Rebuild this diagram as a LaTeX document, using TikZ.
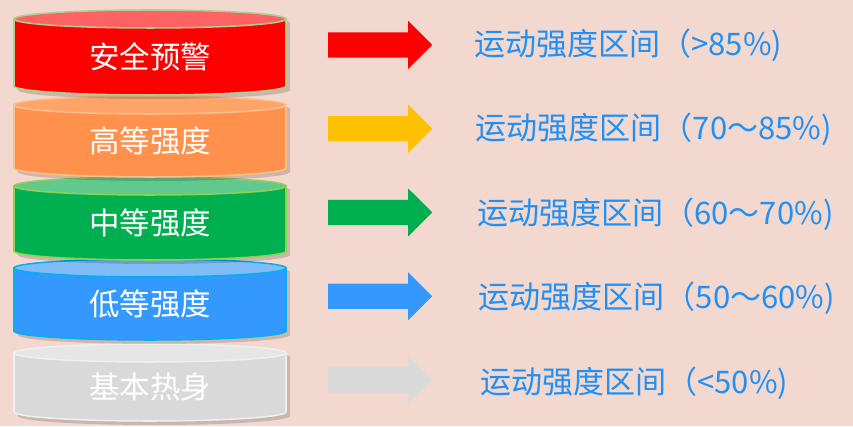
\documentclass[tikz,border=0pt]{standalone}
\usepackage{fontspec}
\setmainfont{Noto Sans CJK SC}
\usetikzlibrary{shapes.arrows}
\definecolor{lvbg}{HTML}{F2D8CE}
\definecolor{lvtext}{HTML}{2090F5}
\definecolor{lvred}{HTML}{FF0000}
\definecolor{lvredtop}{HTML}{FF6262}
\definecolor{lvredrim}{HTML}{A9D18E}
\definecolor{lvorange}{HTML}{FF914D}
\definecolor{lvorangetop}{HTML}{FFA468}
\definecolor{lvorangerim}{HTML}{F8C08F}
\definecolor{lvgreen}{HTML}{00B050}
\definecolor{lvgreentop}{HTML}{62C98E}
\definecolor{lvgreenrim}{HTML}{92D050}
\definecolor{lvblue}{HTML}{3399FF}
\definecolor{lvbluetop}{HTML}{80BDF6}
\definecolor{lvbluerim}{HTML}{00B0F0}
\definecolor{lvgray}{HTML}{D9D9D9}
\definecolor{lvgraytop}{HTML}{E6E6E6}
\definecolor{lvgrayrim}{HTML}{EFEFEF}
\definecolor{lvredarrow}{HTML}{FF0000}
\definecolor{lvorangearrow}{HTML}{FFC000}
\definecolor{lvgreenarrow}{HTML}{00B050}
\definecolor{lvbluearrow}{HTML}{3399FF}
\definecolor{lvgrayarrow}{HTML}{D9D9D9}
\tikzset{
  lvbody/.style={line width=1.3pt},
  lvshadow/.style={fill=black, opacity=0.16},
  lvlabel/.style={font=\fontsize{26}{30}\selectfont, text=white},
  lvarrow/.style={
    single arrow, draw=none, anchor=tail, inner xsep=0pt,
    inner ysep=0.375cm, minimum height=3.12cm,
    single arrow head extend=0.345cm, single arrow tip angle=90},
  lvrange/.style={anchor=west, font=\fontsize{26.5}{30}\selectfont,
    text=lvtext},
}

\begin{document}
\begin{tikzpicture}[x=0.03cm, y=0.03cm]

% Canvas.
\useasboundingbox (0,0) rectangle (853,426);
\fill[lvbg] (0,0) rectangle (853,426);

% Stacked discs, drawn from the bottom one up so upper rims overlap.
\foreach \i/\t/\b/\c/\txt in {4/344/421/gray/基本热身,
    3/259/340/blue/低等强度, 2/177/260/green/中等强度,
    1/96/177/orange/高等强度, 0/10/95/red/安全预警} {
  \pgfmathsetmacro{\ct}{426 - \t - 9}
  \pgfmathsetmacro{\cb}{426 - \b + 9}
  \pgfmathsetmacro{\ly}{426 - (\t + \b + 9) / 2}
  \fill[lvshadow] (18,\ct - 4) -- (18,\cb - 4)
    arc[start angle=180, end angle=360, x radius=136, y radius=9]
    -- (290,\ct - 4)
    arc[start angle=0, end angle=180, x radius=136, y radius=9] -- cycle;
  \draw[lvbody, fill=lv\c, draw=lv\c rim] (14,\ct) -- (14,\cb)
    arc[start angle=180, end angle=360, x radius=136, y radius=9]
    -- (286,\ct) -- cycle;
  \draw[lvbody, fill=lv\c top, draw=lv\c rim] (150,\ct)
    ellipse[x radius=136, y radius=9];
  \node[lvlabel] (lv\i) at (150,\ly) {\txt};
}

% Block arrows and the intensity range each level stands for.
\foreach \i/\c/\rng in {0/red/{（>85\%)}, 1/orange/{（70～85\%)},
    2/green/{（60～70\%)}, 3/blue/{（50～60\%)}, 4/gray/{（<50\%)}} {
  \node[lvarrow, fill=lv\c arrow] (ar\i) at (328, 426 - 45 - 83.75*\i) {};
  \node[lvrange] (rg\i) at (470 + 1.5*\i, 426 - 45 - 84.5*\i)
    {运动强度区间\rng};
}

\end{tikzpicture}
\end{document}
